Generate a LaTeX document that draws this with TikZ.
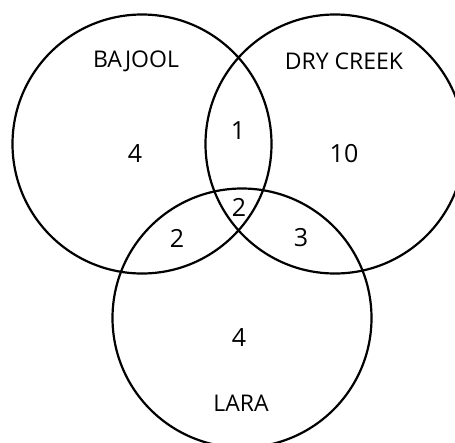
\documentclass[tikz,border=0pt]{standalone}
\usepackage{fontspec}
\setmainfont{Open Sans}
\begin{document}
\begin{tikzpicture}[x=1pt,y=-1pt,
  ring/.style={draw=black,line width=2.2pt,circle,minimum size=259pt,inner sep=0pt},
  setname/.style={font=\fontsize{23}{26}\selectfont},
  count/.style={font=\fontsize{25}{28}\selectfont}]
\useasboundingbox (0,0) rectangle (455,442);
\clip (0,0) rectangle (455,442);
\node[ring] (bajool) at (142,144) {};
\node[ring] (dry) at (335,144) {};
\node[ring] (lara) at (242,318) {};
\node[setname] (tb) at (136,61) {BAJOOL};
\node[setname] (td) at (344,61) {DRY CREEK};
\node[setname] (tl) at (241,403) {LARA};
\node[count] (n1) at (135,154) {4};
\node[count] (n2) at (238,131) {1};
\node[count] (n3) at (344,154) {10};
\node[count] (n4) at (239,207) {2};
\node[count] (n5) at (177,238) {2};
\node[count] (n6) at (301,238) {3};
\node[count] (n7) at (239,338) {4};
\end{tikzpicture}
\end{document}
